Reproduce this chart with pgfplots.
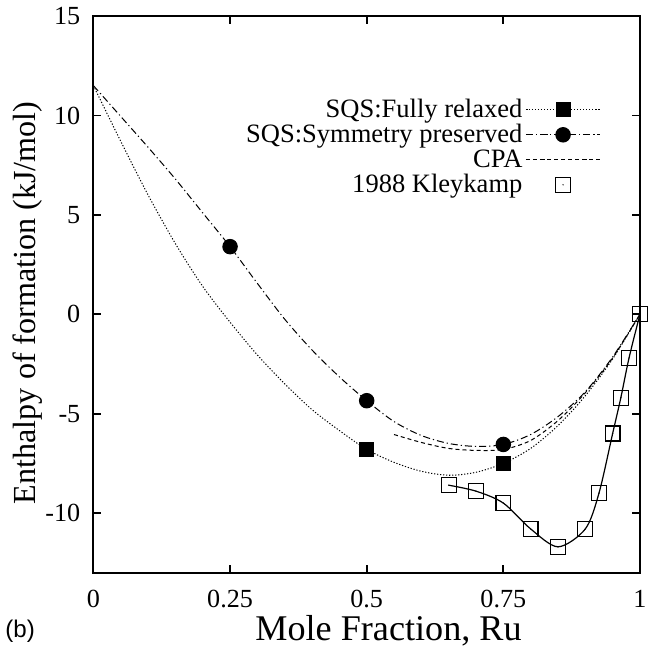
\documentclass[border=0pt]{standalone}
\usepackage{fontspec}
\setmainfont{Liberation Serif}
\newfontfamily\panelfont{Liberation Sans}
\usepackage{pgfplots}
\pgfplotsset{compat=1.18}

\pgfdeclareplotmark{sqdot}{%
  \pgfpathrectangle{\pgfqpoint{-\pgfplotmarksize}{-\pgfplotmarksize}}{\pgfqpoint{2\pgfplotmarksize}{2\pgfplotmarksize}}%
  \pgfusepathqstroke
  \pgfpathcircle{\pgfpointorigin}{0.35pt}%
  \pgfusepathqfill}

% legend sample with a single mark in the middle
\pgfplotsset{midmark legend/.style={legend image code/.code={\draw[##1, mark indices={2}]
    plot coordinates {(0cm,0cm) (0.65cm,0cm) (1.3cm,0cm)};}}}

\begin{document}
\begin{tikzpicture}
\begin{axis}[
  scale only axis, width=272pt, height=277pt,
  xmin=0, xmax=1, ymin=-13, ymax=15,
  xtick={0,0.25,0.5,0.75,1}, xticklabels={0,0.25,0.5,0.75,1},
  ytick={-10,-5,0,5,10,15},
  /pgf/number format/assume math mode=true,
  tick align=inside, major tick length=4pt,
  axis line style={line width=1pt}, tick style={line width=0.9pt, black},
  ticklabel style={font=\fontsize{13}{15}\selectfont},
  xticklabel style={yshift=-5pt},
  yticklabel style={xshift=-3pt},
  xlabel={Mole Fraction, Ru},
  ylabel={Enthalpy of formation (kJ/mol)},
  xlabel style={font=\fontsize{18}{20}\selectfont, at={(axis description cs:0.54,-0.1047)}, anchor=center},
  ylabel style={font=\fontsize{16}{18}\selectfont, at={(axis description cs:-0.1195,0.485)}, anchor=center},
  clip=false,
  legend cell align=right,
  legend plot pos=right,
  legend style={draw=none, fill=none, at={(0.94,0.865)}, anchor=north east,
    font=\fontsize{13.2}{14}\selectfont, row sep=-1pt,
    nodes={inner sep=1.5pt}},
  legend image code/.code={\draw[mark repeat=2,mark phase=2,#1]
    plot coordinates {(0cm,0cm) (0.65cm,0cm) (1.3cm,0cm)};},
]
% SQS fully relaxed
\addplot[black, line width=0.5pt, dash pattern=on 0.6pt off 0.9pt, smooth,
  mark=square*, mark size=3.5pt, mark indices={11,16},
  mark options={solid, fill=black}, midmark legend]
  coordinates {(0,11.5) (0.05,8.7) (0.10,6.0) (0.15,3.55) (0.20,1.4)
    (0.25,-0.4) (0.30,-2.05) (0.35,-3.5) (0.40,-4.8) (0.45,-5.85)
    (0.50,-6.8) (0.55,-7.45) (0.60,-7.9) (0.65,-8.1) (0.70,-7.95)
    (0.75,-7.5) (0.80,-6.75) (0.85,-5.6) (0.90,-4.1) (0.95,-2.25) (1.00,0)};
\addlegendentry{SQS:Fully relaxed}
% SQS symmetry preserved
\addplot[black, line width=0.5pt, dash pattern=on 3.5pt off 1.5pt on 0.6pt off 1.5pt, smooth,
  mark=*, mark size=3.6pt, mark indices={6,11,16},
  mark options={solid, fill=black}, midmark legend]
  coordinates {(0,11.5) (0.05,9.95) (0.10,8.4) (0.15,6.8) (0.20,5.1)
    (0.25,3.4) (0.30,1.55) (0.35,-0.25) (0.40,-1.8) (0.45,-3.15)
    (0.50,-4.35) (0.55,-5.4) (0.60,-6.1) (0.65,-6.5) (0.70,-6.65)
    (0.75,-6.55) (0.80,-6.05) (0.85,-5.15) (0.90,-3.9) (0.95,-2.15) (1.00,0)};
\addlegendentry{SQS:Symmetry preserved}
% CPA
\addplot[black, line width=0.5pt, dash pattern=on 2pt off 1.5pt, smooth]
  coordinates {(0.55,-6.05) (0.60,-6.45) (0.65,-6.75) (0.70,-6.85)
    (0.75,-6.8) (0.80,-6.35) (0.85,-5.35) (0.90,-3.95) (0.95,-2.2) (1.00,0)};
\addlegendentry{CPA}
% Kleykamp 1988
\addplot[black, only marks, mark=sqdot, mark size=3.7pt, line width=0.6pt]
  coordinates {(0.65,-8.6) (0.70,-8.9) (0.75,-9.5) (0.80,-10.8) (0.85,-11.7)
    (0.90,-10.8) (0.925,-9.0) (0.95,-6.0) (0.965,-4.2) (0.98,-2.2) (1.0,0)};
\addlegendentry{1988 Kleykamp}
\addplot[black, line width=0.6pt, smooth, forget plot]
  coordinates {(0.65,-8.6) (0.70,-8.9) (0.75,-9.5) (0.80,-10.8) (0.85,-11.7)
    (0.90,-10.8) (0.925,-9.0) (0.95,-6.0) (0.965,-4.2) (0.98,-2.2) (1.0,0)};
\node[font=\panelfont\fontsize{12}{14}\selectfont, anchor=center]
  at (rel axis cs:-0.134,-0.1047) {(b)};
\coordinate (sw) at (rel axis cs:0,0);
\coordinate (ne) at (rel axis cs:1,1);
\end{axis}
\pgfresetboundingbox
\path[use as bounding box] ([xshift=-46.5pt,yshift=-36.5pt]sw) rectangle ([xshift=4.5pt,yshift=8pt]ne);
\end{tikzpicture}
\end{document}
